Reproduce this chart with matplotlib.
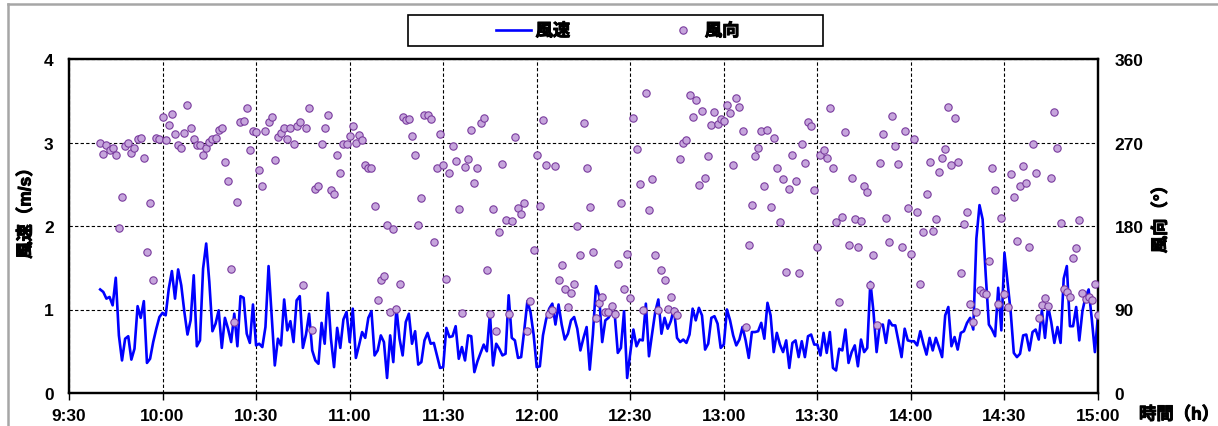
import matplotlib
matplotlib.use('Agg')
import matplotlib.pyplot as plt
import matplotlib.patheffects as pe
from matplotlib.lines import Line2D
from matplotlib.patches import Rectangle

plt.rcParams['font.family'] = ['Liberation Sans', 'Noto Sans CJK JP']
plt.rcParams['font.weight'] = 'bold'

# 1-minute readings starting 9:40
start_time = '9:40'

speed = [
    1.24, 1.21, 1.13, 1.15, 1.05, 1.38, 0.69, 0.39, 0.65, 0.68,
    0.40, 0.53, 1.04, 0.90, 1.10, 0.36, 0.41, 0.61, 0.77, 0.91,
    0.96, 0.93, 1.25, 1.46, 1.13, 1.48, 1.29, 0.97, 0.70, 0.87,
    1.41, 0.56, 0.63, 1.49, 1.79, 1.33, 0.74, 0.83, 0.99, 0.54,
    0.90, 0.77, 0.61, 0.95, 0.56, 1.16, 1.14, 0.71, 0.60, 1.06,
    0.57,
    0.59, 0.55, 0.79, 1.52, 0.93, 0.33, 0.65, 0.57, 1.12, 0.75,
    0.86, 0.61, 1.11, 1.16, 0.54, 0.70, 0.95, 0.51, 0.39, 0.35,
    0.84, 0.59, 1.20, 0.65, 0.31, 0.78, 0.54, 0.88, 0.97, 0.61,
    1.01, 0.42, 0.57, 0.73, 0.66, 0.90, 0.98, 0.45, 0.51, 0.69,
    0.61, 0.18, 0.69, 0.37, 1.02, 0.65, 0.45, 0.85, 0.95, 0.59,
    0.74, 0.34, 0.37, 0.63, 0.72, 0.59, 0.60, 0.45, 0.30, 0.31,
    0.78, 0.67, 0.68, 0.80, 0.41, 0.55, 0.39, 0.69, 0.68, 0.25,
    0.38, 0.48, 0.58, 0.50, 0.95, 0.33, 0.59, 0.53, 0.45, 0.47,
    1.17, 0.66, 0.63, 0.42, 0.43, 0.75, 1.10, 0.97, 0.70, 0.31,
    0.32, 0.69, 0.88, 1.01, 1.07, 0.82, 1.06, 0.82, 0.64, 0.71,
    0.87, 0.91, 0.77, 0.51, 0.66, 0.79, 0.28, 0.70, 1.28, 1.17,
    0.61, 0.87, 0.90, 0.97, 0.95, 0.48, 0.54, 0.98, 0.18, 0.48,
    0.76, 0.56, 0.64, 0.63, 1.07, 0.44, 0.71, 0.97, 1.12, 0.71,
    0.90, 0.77, 0.86, 1.01, 0.66, 0.61, 0.64, 0.60, 0.70, 1.01,
    0.87, 1.02, 0.93, 0.52, 0.59, 0.90, 0.92, 0.83, 0.54, 0.58,
    1.00, 0.87, 0.69, 0.57, 0.64, 0.79, 0.63, 0.42, 0.73, 0.73,
    0.74, 0.84, 0.65, 1.08, 0.93, 0.49, 0.72, 0.58, 0.49, 0.63,
    0.30, 0.60, 0.63, 0.43, 0.62, 0.43, 0.68, 0.70, 0.58, 0.58,
    0.45, 0.72, 0.48, 0.73, 0.30, 0.27, 0.53, 0.51, 0.76, 0.36,
    0.49, 0.57, 0.32, 0.64, 0.49, 0.54, 1.33, 0.97, 0.49, 0.81,
    0.82, 0.60, 0.87, 0.81, 0.81, 0.62, 0.43, 0.77, 0.63, 0.62,
    0.62, 0.57, 0.74, 0.59, 0.46, 0.66, 0.51, 0.66, 0.55, 0.43,
    0.93, 1.03, 0.56, 0.67, 0.52, 0.72, 0.74, 0.84, 0.90, 0.76,
    1.85, 2.25, 2.08, 1.41, 0.82, 0.76, 0.68, 1.26, 0.75, 1.68,
    1.33, 0.97, 0.48, 0.43, 0.47, 0.69, 0.70, 0.51, 0.73, 0.76,
    0.64, 0.99, 0.66, 1.04, 0.85, 0.60, 0.79, 0.60, 1.37, 1.52,
    0.80, 0.80, 1.03, 0.63, 0.98, 1.15, 1.24, 0.89, 0.49, 0.93,
]

direction = [
    269, 258, 267, 262, 264, 256, 178, 211, 266, 270,
    259, 264, 274, 275, 253, 152, 205, 122, 275, 274,
    297, 273, 289, 301, 279, 267, 264, 280, 310, 286,
    274, 267, 267, 257, 264, 271, 274, 275, 284, 286,
    249, 228, 134, 77, 206, 292, 293, 307, 262, 282,
    281,
    240, 223, 282, 292, 298, 251, 276, 280, 286, 274,
    286, 268, 288, 292, 116, 286, 307, 68, 220, 223,
    268, 286, 300, 219, 214, 257, 237, 268, 268, 277,
    288, 270, 278, 273, 246, 243, 242, 202, 100, 122,
    126, 181, 87, 177, 91, 118, 297, 294, 295, 277,
    256, 181, 210, 300, 300, 295, 163, 243, 279, 246,
    123, 237, 266, 250, 198, 86, 244, 252, 284, 226,
    243, 291, 296, 133, 85, 198, 67, 173, 247, 187,
    85, 185, 276, 199, 193, 205, 67, 99, 154, 256,
    202, 294, 246, 85, 90, 245, 122, 138, 112, 93,
    108, 117, 180, 149, 291, 243, 201, 152, 81, 97,
    103, 87, 87, 94, 85, 139, 205, 112, 150, 102,
    296, 263, 225, 90, 323, 197, 231, 149, 90, 133,
    122, 91, 103, 88, 84, 252, 270, 273, 321, 297,
    316, 224, 304, 232, 255, 289, 303, 290, 295, 293,
    310, 302, 246, 318, 308, 282, 71, 159, 203, 255,
    264, 282, 223, 283, 200, 275, 243, 184, 231, 130,
    220, 256, 228, 129, 268, 248, 292, 288, 219, 157,
    256, 262, 253, 307, 242, 184, 98, 190, 281, 159,
    232, 188, 157, 185, 223, 217, 116, 149, 73, 248,
    279, 189, 163, 299, 266, 247, 157, 282, 199, 150,
    274, 195, 118, 173, 215, 249, 175, 188, 238, 253,
    263, 308, 246, 296, 249, 129, 182, 195, 96, 77,
    87, 111, 108, 107, 142, 243, 219, 96, 189, 107,
    93, 236, 211, 164, 223, 245, 226, 157, 268, 237,
    81, 95, 102, 94, 232, 303, 264, 183, 112, 109,
    103, 146, 156, 186, 108, 101, 103, 100, 118, 84,
]

tick_labels = ['9:30', '10:00', '10:30', '11:00', '11:30', '12:00',
               '12:30', '13:00', '13:30', '14:00', '14:30', '15:00']


def to_min(s):
    h, m = s.split(':')
    return int(h) * 60 + int(m)


t0 = to_min(start_time)
times = [t0 + i for i in range(len(speed))]
tick_pos = [to_min(s) for s in tick_labels]

W, H = 1218, 427
fig = plt.figure(figsize=(W / 100, H / 100), dpi=100)
ax = fig.add_axes([69 / W, 1 - 394 / H, (1098 - 69) / W, (394 - 60) / H])
ax2 = ax.twinx()

ax.plot(times, speed, color='#0000ff', lw=1.9, zorder=3)
ax2.plot(times, direction, ls='none', marker='o', ms=5.3,
         mfc='#c6a5dc', mec='#7a3c9e', mew=0.8, zorder=4)

ax.set_xlim(tick_pos[0], tick_pos[-1])
ax.set_ylim(0, 4)
ax2.set_ylim(0, 360)
ax.set_xticks(tick_pos)
ax.set_xticklabels(tick_labels)
ax.set_yticks([0, 1, 2, 3, 4])
ax2.set_yticks([0, 90, 180, 270, 360])

ax.grid(True, color='black', ls=(0, (3, 2)), lw=0.8)
ax.tick_params(axis='x', direction='out', length=5, width=1, pad=6, labelsize=12.5)
ax.tick_params(axis='y', length=0, pad=11, labelsize=12.5)
ax2.tick_params(axis='y', length=0, pad=12, labelsize=12.5)
for a in (ax, ax2):
    for sp in a.spines.values():
        sp.set_linewidth(1.6)

# CJK bold is thin in the fallback font, thicken it a little
heavy = [pe.withStroke(linewidth=0.7, foreground='black')]

fig.text(25 / W, 1 - 210 / H, '風速（m/s）', rotation=90, ha='center', va='center',
         fontsize=12.5, path_effects=heavy)
fig.text(1160 / W, 1 - 216 / H, '風向（°）', rotation=90, ha='center', va='center',
         fontsize=12.5, path_effects=heavy)
fig.text(1139 / W, 1 - 415 / H, '時間（h）', ha='left', va='center', fontsize=12.5,
         path_effects=heavy)

# legend
handles = [Line2D([], [], color='#0000ff', lw=1.9),
           Line2D([], [], ls='none', marker='o', ms=5.3, mfc='#c6a5dc', mec='#7a3c9e', mew=0.8)]
leg = fig.legend(handles, ['風速', '風向'], loc='center', ncol=2, frameon=False,
                 bbox_to_anchor=(618 / W, 1 - 31.5 / H), fontsize=12.5,
                 handlelength=2.0, handletextpad=0.25, columnspacing=5.5)
for t in leg.get_texts():
    t.set_path_effects(heavy)
fig.add_artist(Rectangle((408 / W, 1 - 47 / H), 415 / W, 31 / H, transform=fig.transFigure,
                         fill=False, ec='black', lw=1.2))

# outer frame (cropped)
fig.add_artist(Line2D([8 / W, 8 / W], [0, 1 - 4.5 / H], transform=fig.transFigure, color='#a6a6a6', lw=1.8))
fig.add_artist(Line2D([8 / W, 1], [1 - 4.5 / H, 1 - 4.5 / H], transform=fig.transFigure, color='#a6a6a6', lw=1.8))

fig.savefig('out.png', dpi=100)
